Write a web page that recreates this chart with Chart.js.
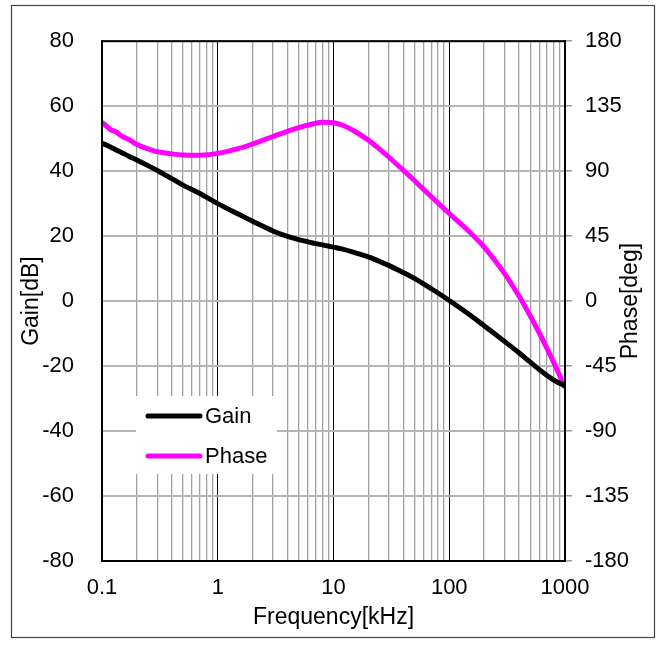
<!DOCTYPE html>
<html>
<head>
<meta charset="utf-8">
<script src="https://cdn.jsdelivr.net/npm/chart.js@4.4.1/dist/chart.umd.min.js"></script>
<style>
  html, body { margin: 0; padding: 0; background: #fff; }
</style>
</head>
<body>
<canvas id="bode" width="662" height="648"></canvas>
<script>
// Frequency points [kHz]
const freqs = [0.1, 0.11, 0.12, 0.13, 0.15, 0.17, 0.2, 0.25, 0.3, 0.4, 0.5, 0.7, 1, 1.5, 2, 3, 4, 5, 7, 8, 10,
  12, 15, 20, 25, 30, 40, 50, 70, 100, 150, 200, 300, 400, 500, 600, 700, 800, 900, 1000];
// Gain [dB]
const gainDb = [48.6, 48.0, 47.3, 46.7, 45.6, 44.6, 43.4, 41.7, 40.2, 37.7, 35.7, 33.1, 30.0, 26.8, 24.6, 21.6, 19.9, 18.9, 17.7, 17.3, 16.6,
  16.0, 15.0, 13.6, 12.2, 11.0, 8.8, 7.0, 3.8, 0.2, -4.2, -7.6, -12.4, -15.9, -18.8, -21.1, -22.9, -24.3, -25.3, -26.0];
// Phase [deg]
const phaseDeg = [124, 121, 118.5, 117.5, 114, 112, 108.5, 105.5, 103.5, 102, 101.2, 101, 102.3, 105.6, 108.8, 114, 117.6, 120.2, 123.2, 123.9, 123.5,
  121.8, 118, 111.5, 105.3, 99.8, 90.7, 83.5, 72.3, 60.7, 47.9, 37.5, 19.2, 3.5, -10.1, -22.1, -32.9, -42.6, -51.6, -60];

const decades = [0.1, 1, 10, 100, 1000];
const decadeLabels = ['0.1', '1', '10', '100', '1000'];

const FONT = 'Liberation Sans, Arial, sans-serif';

function isDecade(v) {
  return decades.some(d => Math.abs(v - d) / d < 1e-6);
}

// outer frame, top border of the plot, right axis title, legend box
const extras = {
  id: 'extras',
  afterDraw(chart) {
    const ctx = chart.ctx;
    const a = chart.chartArea;
    ctx.save();
    ctx.strokeStyle = '#000';
    ctx.lineWidth = 2;
    ctx.strokeRect(a.left, a.top, a.right - a.left, a.bottom - a.top);

    ctx.strokeStyle = '#444';
    ctx.lineWidth = 1.2;
    ctx.strokeRect(11.5, 5.5, 643, 632);

    // right axis title (reads bottom-to-top like the left one)
    ctx.fillStyle = '#000';
    ctx.font = '23px ' + FONT;
    ctx.textAlign = 'center';
    ctx.textBaseline = 'middle';
    ctx.translate(631, (a.top + a.bottom) / 2);
    ctx.rotate(-Math.PI / 2);
    ctx.fillText('Phase[deg]', 0, 0);
    ctx.restore();

    // legend
    ctx.save();
    ctx.fillStyle = '#fff';
    ctx.fillRect(136, 396, 141, 78);
    ctx.font = '22px ' + FONT;
    ctx.textAlign = 'left';
    ctx.textBaseline = 'middle';
    ctx.lineCap = 'round';
    chart.data.datasets.forEach((ds, i) => {
      const y = 416 + i * 40;
      ctx.strokeStyle = ds.borderColor;
      ctx.lineWidth = 5;
      ctx.beginPath();
      ctx.moveTo(148, y);
      ctx.lineTo(200, y);
      ctx.stroke();
      ctx.fillStyle = '#000';
      ctx.fillText(ds.label, 205, y + 1);
    });
    ctx.restore();
  }
};

new Chart(document.getElementById('bode'), {
  type: 'line',
  data: {
    datasets: [{
      label: 'Gain',
      data: freqs.map((f, i) => ({ x: f, y: gainDb[i] })),
      borderColor: '#000000',
      borderWidth: 5,
      pointRadius: 0,
      tension: 0.35,
      yAxisID: 'y'
    }, {
      label: 'Phase',
      data: freqs.map((f, i) => ({ x: f, y: phaseDeg[i] })),
      borderColor: '#ff00ff',
      borderWidth: 5,
      pointRadius: 0,
      tension: 0.35,
      yAxisID: 'y1'
    }]
  },
  options: {
    responsive: false,
    animation: false,
    devicePixelRatio: 1,
    layout: { padding: { top: 41, left: 0, right: 0, bottom: 0 } },
    plugins: {
      legend: { display: false },
      tooltip: { enabled: false }
    },
    scales: {
      x: {
        type: 'logarithmic',
        min: 0.1,
        max: 1000,
        afterBuildTicks: function(scale) {
          const t = [];
          decades.slice(0, -1).forEach(d => {
            for (let k = 1; k < 10; k++) t.push({ value: d * k });
          });
          t.push({ value: 1000 });
          scale.ticks = t;
        },
        afterFit: function(scale) { scale.height = 87; },
        ticks: {
          autoSkip: false,
          maxRotation: 0,
          padding: 14,
          color: '#000',
          font: { family: FONT, size: 22 },
          callback: function(value) {
            const i = decades.findIndex(d => Math.abs(value - d) / d < 1e-6);
            return i >= 0 ? decadeLabels[i] : '';
          }
        },
        grid: {
          drawTicks: false,
          color: ctx => (ctx.tick && isDecade(ctx.tick.value)) ? '#000' : '#a0a0a0',
          lineWidth: ctx => (ctx.tick && isDecade(ctx.tick.value)) ? 1 : 1.3
        },
        border: { color: '#000', width: 2 },
        title: {
          display: true,
          text: 'Frequency[kHz]',
          color: '#000',
          font: { family: FONT, size: 23 },
          padding: { top: 0, bottom: 17 }
        }
      },
      y: {
        position: 'left',
        min: -80,
        max: 80,
        afterFit: function(scale) { scale.width = 102; },
        ticks: {
          stepSize: 20,
          padding: 28,
          color: '#000',
          font: { family: FONT, size: 22 }
        },
        grid: { drawTicks: false, color: '#b4b4b4', lineWidth: 2 },
        border: { color: '#000', width: 2 },
        title: {
          display: true,
          text: 'Gain[dB]',
          color: '#000',
          font: { family: FONT, size: 23 },
          padding: { top: 18, bottom: 0 }
        }
      },
      y1: {
        position: 'right',
        min: -180,
        max: 180,
        afterFit: function(scale) { scale.width = 97; },
        ticks: {
          stepSize: 45,
          padding: 13,
          color: '#000',
          font: { family: FONT, size: 22 }
        },
        grid: { drawOnChartArea: false, drawTicks: true, tickLength: 7, color: '#999', lineWidth: 1.5 },
        border: { color: '#000', width: 2 }
      }
    }
  },
  plugins: [extras]
});
</script>
</body>
</html>
